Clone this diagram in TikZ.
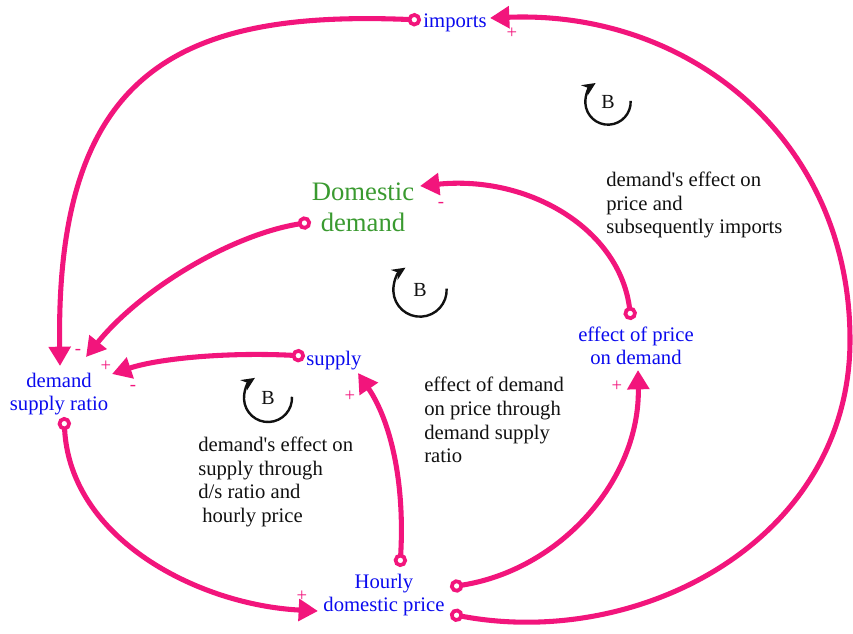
\documentclass[tikz,border=0pt]{standalone}
\usepackage{fontspec}
\setmainfont{Liberation Serif}
\usetikzlibrary{positioning,arrows.meta,calc}
\definecolor{cld}    {HTML}{F2157C}
\definecolor{varblue}{HTML}{0A0AEE}
\definecolor{stock}  {HTML}{3A9A30}
\definecolor{ink}    {HTML}{111111}
\tikzset{
  % --- nodes
  var/.style    = {align=center, inner sep=1pt, text=varblue,
                   font=\fontsize{15.5}{17.5}\selectfont},
  stk/.style    = {var, text=stock, font=\fontsize{20}{23}\selectfont},
  note/.style   = {align=left, inner sep=0pt, anchor=west, text=ink,
                   font=\fontsize{15.5}{17.8}\selectfont},
  sgn/.style    = {inner sep=0pt, text=cld, font=\fontsize{14}{14}\selectfont},
  loopname/.style = {inner sep=0pt, text=ink, font=\fontsize{15}{15}\selectfont},
  % --- edges
  link/.style   = {{Circle[fill=white,line width=2.8pt,length=10pt,width=10pt]}-{Triangle[length=14.5pt,width=16pt]},
                   line width=3.8pt, draw=cld},
  loopar/.style = {-{Stealth[length=10pt,width=9pt]}, line width=1.8pt, draw=ink},
}
\newcommand{\apos}{\textquotesingle}
\begin{document}
\begin{tikzpicture}[x=0.75pt,y=-0.75pt]
  \useasboundingbox (0,0) rectangle (853,633);

  % variables
  \node[var] (imp) at (455,23)  {imports};
  \node[stk] (dd)  at (363,207) {Domestic\\demand};
  \node[var] (dsr) at (59,394)  {demand\\supply ratio};
  \node[var] (sup) at (334,361) {supply};
  \node[var] (epd) at (636,346) {effect of price\\on demand};
  \node[var] (hdp) at (384,595) {Hourly\\domestic price};

  % loop descriptions
  \node[note] (lblimp)   at (606,205) {demand\apos s effect on\\price and\\subsequently imports};
  \node[note] (lblprice) at (424,420) {effect of demand\\on price through\\demand supply\\ratio};
  \node[note] (lblsup)   at (198,482) {demand\apos s effect on\\supply through\\d/s ratio and\\\hspace{3pt}hourly price};

  % links
  \draw[link] ($(imp)+(-34,-3)$) .. controls (180,10) and (55,70) .. ($(dsr)+(1,-28)$);
  \draw[link] ($(dd)+(-52,15)$) .. controls (230,235) and (140,290) .. ($(dsr)+(27,-37)$);
  \draw[link] ($(sup)+(-29,-5)$) .. controls (230,352) and (160,358) .. ($(dsr)+(53,-20)$);
  \draw[link] ($(dsr)+(5,23)$) .. controls (70,540) and (200,605) .. ($(hdp)+(-66,16)$);
  \draw[link] ($(hdp)+(16,-28)$) .. controls (405,480) and (390,420) .. ($(sup)+(24,12)$);
  \draw[link] ($(hdp)+(66,-8)$) .. controls (560,570) and (640,480) .. ($(epd)+(2,24)$);
  \draw[link] ($(epd)+(-5,-26)$) .. controls (620,230) and (530,175) .. ($(dd)+(57,-21)$);
  \draw[link] ($(hdp)+(66,19)$) .. controls (640,650) and (850,540) .. (850,340)
              .. controls (850,140) and (690,10) .. ($(imp)+(35,-5)$);

  % polarities
  \node[sgn] (sgA) at (78,352)  {-};
  \node[sgn] (sgB) at (106,366) {+};
  \node[sgn] (sgC) at (133,388) {-};
  \node[sgn] (sgD) at (302,596) {+};
  \node[sgn] (sgE) at (350,396) {+};
  \node[sgn] (sgF) at (617,386) {+};
  \node[sgn] (sgG) at (441,205) {-};
  \node[sgn] (sgH) at (512,33)  {+};

  % loop markers
  \node[loopname] (lpA) at (608,102) {B};
  \draw[loopar] ($(lpA)+(3:17pt)$) arc[start angle=3, end angle=-237, radius=17pt];
  \node[loopname] (lpB) at (420,290) {B};
  \draw[loopar] ($(lpB)+(3:20pt)$) arc[start angle=3, end angle=-237, radius=20pt];
  \node[loopname] (lpC) at (268,398) {B};
  \draw[loopar] ($(lpC)+(3:18pt)$) arc[start angle=3, end angle=-237, radius=18pt];
\end{tikzpicture}
\end{document}
